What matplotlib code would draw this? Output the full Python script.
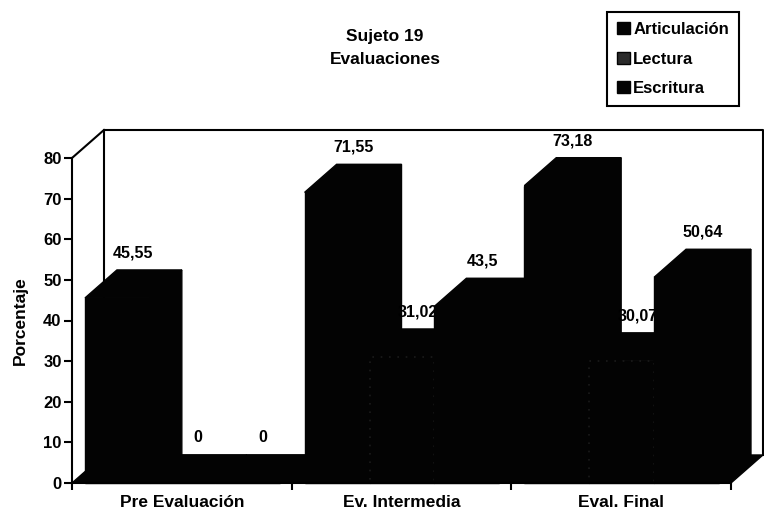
"""Grouped pseudo-3D bar chart of the three evaluations for subject 19."""
import matplotlib
matplotlib.use('Agg')
import matplotlib.pyplot as plt
from matplotlib.patches import Patch, Polygon

plt.rcParams['font.family'] = ['Liberation Sans', 'DejaVu Sans']
plt.rcParams['font.weight'] = 'bold'

groups = ["Pre Evaluación", "Ev. Intermedia", "Eval. Final"]
series = ["Articulación", "Lectura", "Escritura"]
articulacion = [45.55, 71.55, 73.18]
lectura = [0, 31.02, 30.07]
escritura = [0, 43.5, 50.64]
labels_art = ["45,55", "71,55", "73,18"]
labels_lec = ["0", "31,02", "30,07"]
labels_esc = ["0", "43,5", "50,64"]
y_ticks = [0, 10, 20, 30, 40, 50, 60, 70, 80]

W, H = 764, 511
_BLACK = "#030303"

# depth of the fake 3D box, in data units
DX = 32 / 220
DY = 28 / 4.06
BAR_W = 65 / 220
GAP = 13 / 220


def draw_bar(ax, x, value, dotted=False):
    # side and top first, then the front face
    side = [(x + BAR_W, 0), (x + BAR_W + DX, DY), (x + BAR_W + DX, value + DY), (x + BAR_W, value)]
    top = [(x, value), (x + DX, value + DY), (x + BAR_W + DX, value + DY), (x + BAR_W, value)]
    front = [(x, 0), (x + BAR_W, 0), (x + BAR_W, value), (x, value)]
    for pts in (side, top, front):
        ax.add_patch(Polygon(pts, closed=True, facecolor=_BLACK, edgecolor=_BLACK, linewidth=1.0,
                             clip_on=False, zorder=3))
    if dotted and value > 0:
        # the Lectura fill only shows as a faint dotted outline
        ax.add_patch(Polygon(front, closed=True, fill=False, edgecolor="#1a1a1a", linewidth=1.2,
                             linestyle=(0, (1, 4)), clip_on=False, zorder=3))


fig = plt.figure(figsize=(W / 100, H / 100), dpi=100)
ax = fig.add_axes([72 / W, 1 - 483 / H, 659 / W, 325 / H])
ax.set_xlim(0, 3)
ax.set_ylim(0, 80)
ax.patch.set_visible(False)

# box: back wall, side wall and a solid floor
box = dict(color="black", linewidth=1.5, clip_on=False, zorder=1)
ax.plot([DX, DX, 3 + DX, 3 + DX], [DY, 80 + DY, 80 + DY, DY], **box)
ax.plot([0, DX], [80, 80 + DY], **box)
ax.add_patch(Polygon([(0, 0), (3, 0), (3 + DX, DY), (DX, DY)], closed=True, facecolor=_BLACK,
                     edgecolor=_BLACK, linewidth=1.0, clip_on=False, zorder=2))

# labels sit under the bars drawn after them, so some end up partly hidden
for i in range(len(groups)):
    for j, (vals, labs) in enumerate(((articulacion, labels_art), (lectura, labels_lec), (escritura, labels_esc))):
        x = i + GAP + j * BAR_W
        draw_bar(ax, x, vals[i], dotted=(j == 1))
        ax.text(x + BAR_W / 2 + DX / 2, vals[i] + DY + 17 / 4.06, labs[i], ha="center", va="center",
                fontsize=11.5, fontweight="bold", color="black", zorder=3)

for name in ("top", "right"):
    ax.spines[name].set_visible(False)
for name in ("left", "bottom"):
    ax.spines[name].set_linewidth(1.5)
    ax.spines[name].set_zorder(5)

ax.set_yticks(y_ticks)
ax.set_yticklabels([str(v) for v in y_ticks], fontsize=12, fontweight="bold")
ax.set_xticks([0, 1, 2, 3])
ax.set_xticklabels([])
ax.set_xticks([0.5, 1.5, 2.5], minor=True)
ax.set_xticklabels(groups, minor=True, fontsize=12.5, fontweight="bold")
ax.tick_params(axis="x", which="major", length=5, width=1.5)
ax.tick_params(axis="x", which="minor", length=0, pad=8.5)
ax.tick_params(axis="y", length=6, width=1.5, pad=1.5)
ax.set_ylabel("Porcentaje", fontsize=12.5, fontweight="bold", labelpad=11)

fig.text(385 / W, 1 - 36 / H, "Sujeto 19", ha="center", va="center", fontsize=12.5, fontweight="bold")
fig.text(385 / W, 1 - 59 / H, "Evaluaciones", ha="center", va="center", fontsize=12.5, fontweight="bold")

handles = [Patch(facecolor=_BLACK, edgecolor=_BLACK),
           Patch(facecolor="#2a2a2a", edgecolor=_BLACK),
           Patch(facecolor=_BLACK, edgecolor=_BLACK)]
leg = fig.legend(handles, series, loc="upper left", bbox_to_anchor=(607 / W, 1 - 12 / H),
                 borderaxespad=0, fancybox=False, framealpha=1, edgecolor="black",
                 prop={"size": 12, "weight": "bold"}, handlelength=0.75, handleheight=0.75,
                 handletextpad=0.22, labelspacing=0.87, borderpad=0.6)
leg.get_frame().set_linewidth(1.5)

fig.savefig("out.png", dpi=100)
plt.close(fig)
